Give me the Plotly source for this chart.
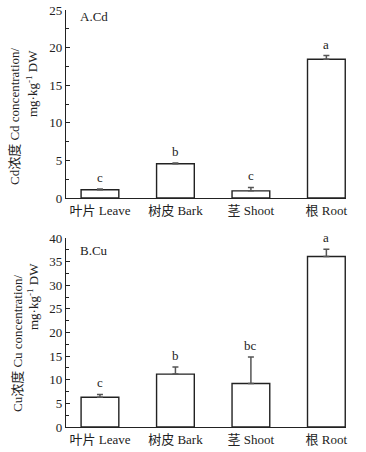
import plotly.graph_objects as go
from plotly.subplots import make_subplots

categories = ["叶片 Leave", "树皮 Bark", "茎 Shoot", "根 Root"]
cd_values = [1.1, 4.55, 0.95, 18.45]
cd_errors = [0.1, 0.1, 0.45, 0.5]
cd_letters = ["c", "b", "c", "a"]
cu_values = [6.3, 11.2, 9.2, 36.1]
cu_errors = [0.6, 1.5, 5.6, 1.5]
cu_letters = ["c", "b", "bc", "a"]
cd_ticks = [0, 5, 10, 15, 20, 25]
cu_ticks = [0, 5, 10, 15, 20, 25, 30, 35, 40]

W, H = 366, 452
# plot area in screen pixels: x 66..346, y 10..427
L, T = 66, 10
R = W - 346
B = H - 427
ph = H - T - B
pw = W - L - R

def sy(py):  # screen y -> paper fraction
    return (H - B - py) / ph

def sx(px):  # screen x -> paper fraction
    return (px - L) / pw

FONT = "Liberation Serif, Times New Roman, Noto Sans CJK SC, serif"
xs = list(range(len(categories)))

fig = make_subplots(rows=2, cols=1)

for row, vals, errs in [(1, cd_values, cd_errors), (2, cu_values, cu_errors)]:
    fig.add_trace(go.Bar(
        x=xs, y=vals, width=0.5,
        marker=dict(color="white", line=dict(color="#222", width=1.4)),
        error_y=dict(type="data", array=errs, symmetric=False, arrayminus=[0]*len(errs),
                     color="#555", thickness=1.5, width=3),
        showlegend=False,
    ), row=row, col=1)

common_x = dict(range=[-0.45, 3.26], tickmode="array", tickvals=xs, ticktext=categories,
                showline=True, linecolor="#222", linewidth=1.2, ticks="", showgrid=False,
                zeroline=False, tickfont=dict(family=FONT, size=13, color="#222"))
fig.update_xaxes(**common_x)

common_y = dict(showline=True, linecolor="#222", linewidth=1.2, ticks="inside", ticklen=4,
                tickcolor="#222", showgrid=False, zeroline=False, ticklabeloverflow="allow",
                tickfont=dict(family=FONT, size=13, color="#222"),
                minor=dict(ticks="inside", ticklen=3, tickcolor="#222", dtick=2.5, showgrid=False))
fig.update_yaxes(**common_y)
fig.update_yaxes(range=[0, 25], tickvals=cd_ticks, domain=[sy(198), sy(10)], row=1, col=1)
fig.update_yaxes(range=[0, 40], tickvals=cu_ticks, domain=[sy(427), sy(238)], row=2, col=1)

annotations = []
for xa, ya, vals, errs, letters in [("x", "y", cd_values, cd_errors, cd_letters),
                                    ("x2", "y2", cu_values, cu_errors, cu_letters)]:
    for x, v, e, t in zip(xs, vals, errs, letters):
        annotations.append(dict(x=x, y=v + e, xref=xa, yref=ya, text=t, showarrow=False,
                                yanchor="bottom", yshift=2,
                                font=dict(family=FONT, size=13, color="#222")))

annotations.append(dict(x=sx(78), y=sy(16), xref="paper", yref="paper", text="A.Cd",
                        showarrow=False, xanchor="left", yanchor="middle",
                        font=dict(family=FONT, size=13, color="#222")))
annotations.append(dict(x=sx(78), y=sy(250), xref="paper", yref="paper", text="B.Cu",
                        showarrow=False, xanchor="left", yanchor="middle",
                        font=dict(family=FONT, size=13, color="#222")))

titles = [
    ("Cd浓度 Cd concentration/", 15, 116),
    ("mg·kg<sup>-1</sup> DW", 32, 84),
    ("Cu浓度 Cu concentration/", 17, 343),
    ("mg·kg<sup>-1</sup> DW", 33, 297),
]
for txt, cx, cy in titles:
    annotations.append(dict(x=sx(cx), y=sy(cy), xref="paper", yref="paper", text=txt,
                            showarrow=False, textangle=-90, xanchor="center", yanchor="middle",
                            font=dict(family=FONT, size=13, color="#222")))

fig.update_layout(width=W, height=H, margin=dict(l=L, r=R, t=T, b=B, autoexpand=False),
                  plot_bgcolor="white", paper_bgcolor="white", annotations=annotations,
                  bargap=0.5)

fig.write_html("out.html", config={"displayModeBar": False},
               post_script="document.body.style.margin='0';document.body.style.overflow='hidden';")
